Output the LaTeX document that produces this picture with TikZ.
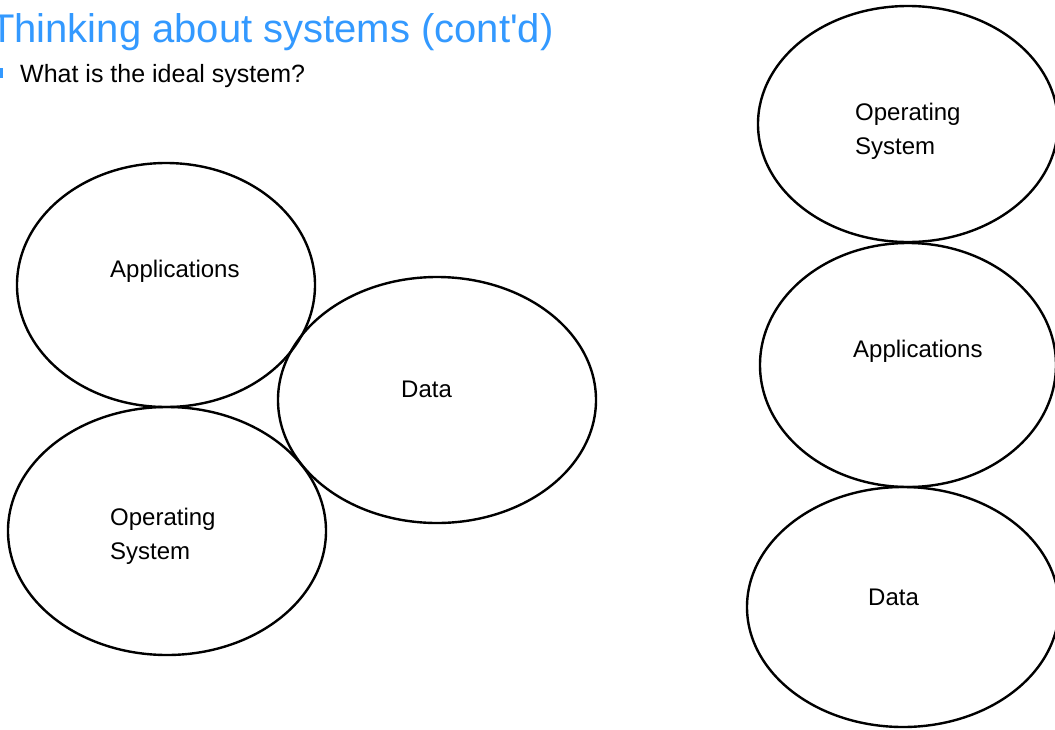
\documentclass[tikz,border=0pt]{standalone}
\usepackage{fontspec}
\setmainfont{Liberation Sans}[Ligatures=TeXOff]
\usetikzlibrary{shapes.geometric}
\definecolor{titleblue}{RGB}{51,153,255}
\begin{document}
\begin{tikzpicture}[x=1pt,y=-1pt,
  blob/.style={draw=black,line width=2.4pt,ellipse,inner sep=0pt,outer sep=0pt},
  lbl/.style={anchor=base west,inner sep=0pt,font=\fontsize{24}{34}\selectfont,align=left},
  ]
  \useasboundingbox (0,0) rectangle (1055,729);
  \clip (0,0) rectangle (1055,729);

  % heading and bullet line
  \node[anchor=base west,inner sep=0pt,text=titleblue,font=\fontsize{40}{48}\selectfont]
    (title) at (-10,42) {Thinking about systems (cont'd)};
  \fill[titleblue] (-7,68) rectangle (3,78);
  \node[anchor=base west,inner sep=0pt,font=\fontsize{25}{30}\selectfont]
    (question) at (20,82) {What is the ideal system?};

  % left arrangement
  \node[blob,minimum width=298pt,minimum height=244pt] (appL) at (166,285) {};
  \node[blob,minimum width=318pt,minimum height=246pt] (dataL) at (437,400) {};
  \node[blob,minimum width=318pt,minimum height=248pt] (osL) at (167,531) {};
  \node[lbl] (appLtext) at (110,277) {Applications};
  \node[lbl] (dataLtext) at (401,397) {Data};
  % multi-line labels are placed by the baseline of their last line
  \node[lbl] (osLtext) at (110,559) {Operating\\System};

  % right stack
  \node[blob,minimum width=300pt,minimum height=236pt] (osR) at (908,124) {};
  \node[blob,minimum width=296pt,minimum height=244pt] (appR) at (908,365) {};
  \node[blob,minimum width=312pt,minimum height=240pt] (dataR) at (903,607) {};
  \node[lbl] (osRtext) at (855,154) {Operating\\System};
  \node[lbl] (appRtext) at (853,357) {Applications};
  \node[lbl] (dataRtext) at (868,605) {Data};
\end{tikzpicture}
\end{document}
